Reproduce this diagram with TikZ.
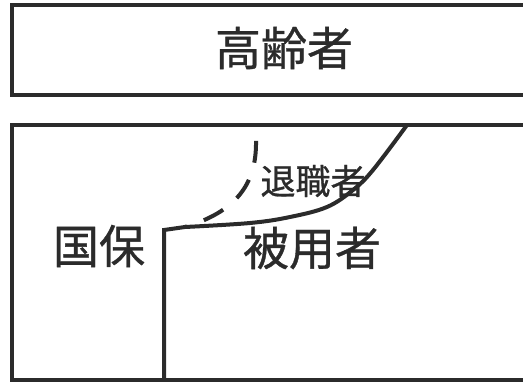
\documentclass[tikz,border=0pt]{standalone}
\usepackage{fontspec}
\newfontfamily\jpfont[FakeBold=0.8]{Noto Sans CJK JP}
\definecolor{ink}{HTML}{2B2B2B}
\tikzset{
  frame/.style={draw=ink, line width=4pt, line join=miter},
  curveline/.style={draw=ink, line width=4pt, line cap=butt},
  bigtext/.style={font=\jpfont\fontsize{46}{46}\selectfont, text=ink, inner sep=0pt},
  smalltext/.style={font=\jpfont\fontsize{35}{35}\selectfont, text=ink, inner sep=0pt}
}
\begin{document}
\begin{tikzpicture}[x=1pt,y=-1pt]
\useasboundingbox (0,0) rectangle (523,383);
\fill[white] (0,0) rectangle (523,383);
% top box
\draw[frame] (525,5) -- (12,5) -- (12,95) -- (525,95);
% bottom box
\draw[frame] (525,125) -- (12,125) -- (12,380) -- (525,380);
% divider and solid curve
\draw[curveline, line join=miter] (164,380) -- (164,230) -- (185,227)
  plot[smooth, tension=0.6] coordinates {(185,227) (250,223) (290,217) (327,207) (353,190) (373,170) (407,125)};
% dashed curve
\draw[curveline, dash pattern=on 22pt off 18pt, dash phase=20pt]
  (185,227) .. controls (235,212) and (257,185) .. (256,140);
% labels
\node[bigtext] (koreisha) at (284,48) {高齢者};
\node[bigtext] (kokuho) at (99,246) {国保};
\node[bigtext] (hiyosha) at (312,248) {被用者};
\node[smalltext] (taishoku) at (313,181) {退職者};
\end{tikzpicture}
\end{document}
